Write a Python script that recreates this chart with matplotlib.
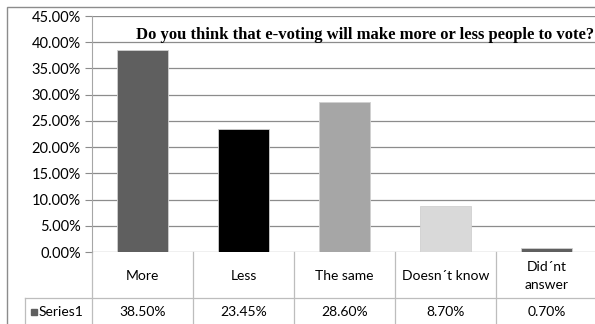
import matplotlib
matplotlib.use("Agg")
import matplotlib.pyplot as plt
from matplotlib.patches import Rectangle

# data
categories = ["More", "Less", "The same", "Doesn\u00b4t know", "Did\u00b4nt\nanswer"]
values = [38.50, 23.45, 28.60, 8.70, 0.70]
bar_colors = ["#5f5f5f", "#000000", "#a6a6a6", "#d9d9d9", "#5f5f5f"]
yticks = [0, 5, 10, 15, 20, 25, 30, 35, 40, 45]
series_name = "Series1"
title = "Do you think that e-voting will make more or less people to vote?"

W, H = 595, 324
fig = plt.figure(figsize=(W / 100, H / 100), dpi=100, facecolor="white")


def fx(px):
    return px / W


def fy(py):
    return 1 - py / H


# outer chart border
fig.patches.append(Rectangle((fx(7), fy(330)), fx(605) - fx(7), fy(7) - fy(330),
                             transform=fig.transFigure, fill=False,
                             ec="#8c8c8c", lw=1.0))

# plot area (92..597 px wide, 16..252 px tall)
left, right, top, bottom = 92, 597, 16, 252
ax = fig.add_axes([fx(left), fy(bottom), fx(right) - fx(left), fy(top) - fy(bottom)])

x = list(range(len(categories)))
ax.bar(x, values, width=0.5, color=bar_colors, edgecolor="#d0d0d0", lw=0.6, zorder=3)

ax.set_xlim(-0.5, len(categories) - 0.5)
ax.set_ylim(0, 45)
ax.set_yticks(yticks)
ax.set_yticklabels([f"{v:.2f}%" for v in yticks], fontsize=10.5, family="Lato")
ax.set_xticks([])
ax.yaxis.grid(True, color="#8c8c8c", lw=0.9)
ax.set_axisbelow(True)
ax.tick_params(axis="y", length=5, color="#8c8c8c", pad=3)
for s in ["top", "right", "bottom"]:
    ax.spines[s].set_visible(False)
ax.spines["left"].set_color("#a6a6a6")

# data table below the plot
ph = bottom - top
to_ax = lambda py: (bottom - py) / ph
tr = ax.get_xaxis_transform()
line_kw = dict(color="#bdbdbd", lw=0.9, clip_on=False, transform=tr)

for i, (cat, val) in enumerate(zip(categories, values)):
    ax.text(i, to_ax(276), cat, transform=tr, ha="center", va="center",
            fontsize=10, family="Lato", linespacing=1.55)
    ax.text(i, to_ax(312), f"{val:.2f}%", transform=tr, ha="center",
            va="center", fontsize=10, family="Lato")
for i in range(len(categories) + 1):
    ax.plot([i - 0.5, i - 0.5], [0, to_ax(330)], **line_kw)

# series row: horizontal divider and left border of legend cell
x_leg = -0.5 - (left - 25) / (right - left) * len(categories)
ax.plot([x_leg, len(categories) - 0.5], [to_ax(298), to_ax(298)], **line_kw)
ax.plot([x_leg, x_leg], [to_ax(298), to_ax(330)], **line_kw)

fig.patches.append(Rectangle((fx(31), fy(315)), fx(6), fy(309) - fy(315),
                             transform=fig.transFigure, color="#5f5f5f"))
fig.text(fx(39), fy(312), series_name, ha="left", va="center", fontsize=10,
         family="Lato")

fig.text(fx(594), fy(35), title, ha="right", va="center", fontsize=12,
         family="Liberation Serif", fontweight="bold")

fig.savefig("out.png", dpi=100, facecolor="white")
